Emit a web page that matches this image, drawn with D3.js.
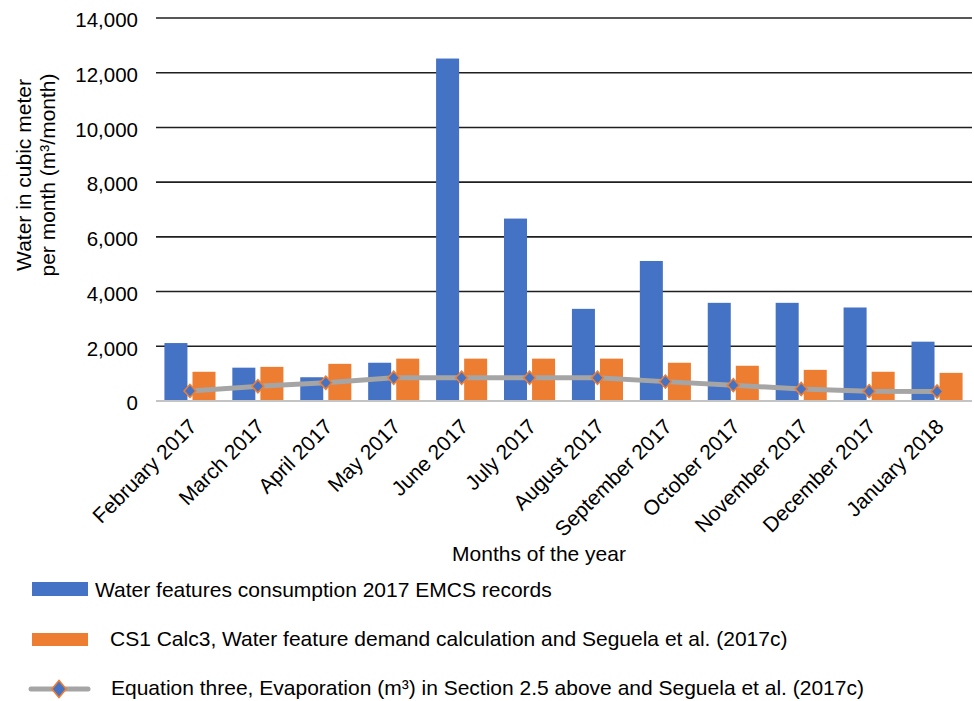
<!DOCTYPE html>
<html lang="en">
<head>
<meta charset="utf-8" />
<title>water features chart</title>
<script src="https://d3js.org/d3.v7.min.js"></script>
<style>
  html, body { margin: 0; padding: 0; background: #fff; }
  svg text { font-family: Arial, "Liberation Sans", sans-serif; fill: #000; }
</style>
</head>
<body>
<div id="chart"></div>
<script>
// months on the x axis
var months = ["February 2017", "March 2017", "April 2017", "May 2017", "June 2017", "July 2017",
              "August 2017", "September 2017", "October 2017", "November 2017", "December 2017", "January 2018"];
// blue bars: EMCS records
var emcs = [2100, 1200, 850, 1380, 12500, 6650, 3350, 5100, 3570, 3570, 3400, 2150];
// orange bars: CS1 Calc3
var calc3 = [1050, 1230, 1340, 1530, 1530, 1530, 1530, 1380, 1270, 1120, 1050, 1010];
// grey line: evaporation
var evap = [350, 520, 650, 830, 830, 830, 830, 690, 560, 420, 340, 330];
var yTicks = [0, 2000, 4000, 6000, 8000, 10000, 12000, 14000];
var legendNames = ["Water features consumption 2017 EMCS records",
                   "CS1 Calc3, Water feature demand calculation and Seguela et al. (2017c)",
                   "Equation three, Evaporation (m\u00b3) in Section 2.5 above and Seguela et al. (2017c)"];

var blue = "#4472C4", orange = "#ED7D31", grey = "#A5A5A5";

var svg = d3.select("#chart").append("svg")
    .attr("width", 974)
    .attr("height", 701);

// scales
var x0 = d3.scaleBand().domain(months).range([156, 971]);
var x1 = d3.scaleBand().domain(["emcs", "calc3"]).range([0, x0.bandwidth()])
    .paddingInner(0.18).paddingOuter(0.3);
var y = d3.scaleLinear().domain([0, 14000]).range([400.5, 17.5]);

// gridlines + y labels
var yAxis = svg.append("g")
    .attr("transform", "translate(156,0)")
    .call(d3.axisLeft(y).tickValues(yTicks.slice(1)).tickSize(-816).tickPadding(18).tickFormat(d3.format(",")));
yAxis.select(".domain").remove();
yAxis.selectAll("line").attr("stroke", "#1f1f1f").attr("stroke-width", 1.6);
yAxis.selectAll("text").attr("font-size", 20.5).attr("dy", "0.45em");

// zero label
svg.append("text")
    .attr("x", 138).attr("y", y(0)).attr("dy", "0.45em")
    .attr("text-anchor", "end").attr("font-size", 20.5)
    .text("0");

// bars
var groups = svg.selectAll("g.month")
    .data(months)
    .enter().append("g")
    .attr("class", "month")
    .attr("transform", function(d) { return "translate(" + x0(d) + ",0)"; });

groups.append("rect")
    .attr("x", x1("emcs"))
    .attr("width", x1.bandwidth())
    .attr("y", function(d, i) { return y(emcs[i]); })
    .attr("height", function(d, i) { return y(0) - y(emcs[i]); })
    .attr("fill", blue);

groups.append("rect")
    .attr("x", x1("calc3"))
    .attr("width", x1.bandwidth())
    .attr("y", function(d, i) { return y(calc3[i]); })
    .attr("height", function(d, i) { return y(0) - y(calc3[i]); })
    .attr("fill", orange);

// bottom axis line
svg.append("line")
    .attr("x1", 156).attr("x2", 972)
    .attr("y1", y(0) + 0.5).attr("y2", y(0) + 0.5)
    .attr("stroke", "#c4c4c4").attr("stroke-width", 2);

// evaporation line
var line = d3.line()
    .x(function(d, i) { return x0(months[i]) + x0.bandwidth() / 2; })
    .y(function(d) { return y(d); });

svg.append("path")
    .datum(evap)
    .attr("d", line)
    .attr("fill", "none")
    .attr("stroke", grey)
    .attr("stroke-width", 5);

// diamonds = squares turned 45 degrees
var diamond = d3.symbol().type(d3.symbolSquare).size(70);
svg.selectAll("path.mark")
    .data(evap)
    .enter().append("path")
    .attr("class", "mark")
    .attr("d", diamond)
    .attr("transform", function(d, i) {
        return "translate(" + (x0(months[i]) + x0.bandwidth() / 2) + "," + y(d) + ") scale(1,1.1) rotate(45)";
    })
    .attr("fill", blue)
    .attr("stroke", orange)
    .attr("stroke-width", 1.5);

// x labels, slanted
svg.append("g").selectAll("text")
    .data(months)
    .enter().append("text")
    .attr("transform", function(d) {
        return "translate(" + (x0(d) + x0.bandwidth() / 2 + 8) + ",428) rotate(-45)";
    })
    .attr("text-anchor", "end")
    .attr("font-size", 21)
    .text(function(d) { return d; });

// axis titles
svg.append("text")
    .attr("x", 539).attr("y", 561)
    .attr("text-anchor", "middle").attr("font-size", 21)
    .text("Months of the year");

var yTitle = svg.append("text")
    .attr("transform", "translate(31,175) rotate(-90)")
    .attr("text-anchor", "middle").attr("font-size", 21);
yTitle.append("tspan").attr("x", 0).attr("y", 0).text("Water in cubic meter");
yTitle.append("tspan").attr("x", 0).attr("y", 24).text("per month (m\u00b3/month)");

// legend
var legend = svg.append("g");
legend.append("rect").attr("x", 32).attr("y", 582).attr("width", 56).attr("height", 14).attr("fill", blue);
legend.append("text").attr("x", 95).attr("y", 597).attr("font-size", 21).text(legendNames[0]);

legend.append("rect").attr("x", 32).attr("y", 633).attr("width", 56).attr("height", 13).attr("fill", orange);
legend.append("text").attr("x", 110).attr("y", 646).attr("font-size", 21).text(legendNames[1]);

legend.append("line").attr("x1", 31).attr("x2", 88).attr("y1", 689).attr("y2", 689)
    .attr("stroke", grey).attr("stroke-width", 5).attr("stroke-linecap", "round");
legend.append("path")
    .attr("d", d3.symbol().type(d3.symbolSquare).size(100))
    .attr("transform", "translate(59,689) scale(1,1.2) rotate(45)")
    .attr("fill", blue).attr("stroke", orange).attr("stroke-width", 1.5);
legend.append("text").attr("x", 111).attr("y", 695).attr("font-size", 21).text(legendNames[2]);
</script>
</body>
</html>
